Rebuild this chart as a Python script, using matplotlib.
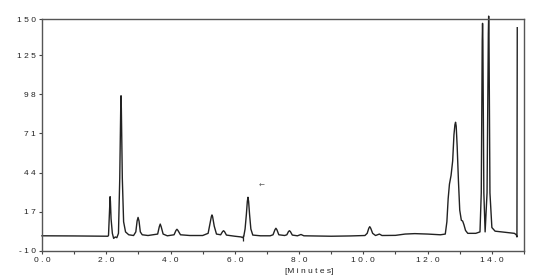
import matplotlib
matplotlib.use('Agg')
import matplotlib.pyplot as plt
from matplotlib.ticker import MultipleLocator

# trace: time [min], signal
time = [0.0, 1.0, 2.05,
        2.07, 2.09, 2.11, 2.12, 2.13, 2.15, 2.19, 2.23, 2.28, 2.33, 2.38,
        2.42, 2.45, 2.46, 2.47, 2.50, 2.54, 2.60, 2.70, 2.85,
        2.92, 2.96, 2.99, 3.02, 3.06, 3.12, 3.30,
        3.60, 3.65, 3.68, 3.71, 3.77, 3.90,
        4.11, 4.17, 4.20, 4.23, 4.31, 4.60, 5.00,
        5.17, 5.23, 5.27, 5.29, 5.31, 5.36, 5.43,
        5.56, 5.62, 5.65, 5.68, 5.74, 6.00, 6.20, 6.24, 6.28,
        6.32, 6.36, 6.39, 6.41, 6.43, 6.46, 6.50, 6.56, 6.80, 7.10,
        7.19, 7.25, 7.28, 7.31, 7.37, 7.55,
        7.62, 7.67, 7.70, 7.73, 7.79, 7.95, 8.06, 8.15, 8.50, 9.00, 9.60, 10.05,
        10.12, 10.17, 10.20, 10.23, 10.29, 10.38, 10.50, 10.58, 11.00, 11.30, 11.60, 12.00,
        12.40, 12.55,
        12.60, 12.64, 12.68, 12.73, 12.78, 12.82, 12.85, 12.87, 12.89, 12.92, 12.96, 13.00,
        13.05, 13.09, 13.13, 13.18, 13.25, 13.50, 13.63,
        13.67, 13.70, 13.71, 13.72, 13.75, 13.79,
        13.85, 13.89, 13.90, 13.91, 13.94, 14.00, 14.10, 14.30, 14.50, 14.70, 14.76, 14.78,
        14.79]
signal = [0.3, 0.2, 0.0,
          0.5, 12.0, 25.0, 27.3, 24.0, 12.0, 2.0, -1.5, -0.5, -1.0, 2.0,
          40.0, 88.0, 97.0, 88.0, 40.0, 10.0, 3.0, 1.0, 0.5,
          3.0, 10.5, 13.0, 10.5, 3.0, 1.0, 0.5,
          1.5, 6.5, 8.4, 6.5, 1.5, 0.3,
          1.0, 4.0, 4.8, 4.0, 1.0, 0.5, 0.5,
          2.0, 9.0, 13.5, 14.7, 13.5, 7.0, 1.5,
          1.0, 3.2, 3.8, 3.2, 0.8, 0.0, -0.5, -1.0, 0.0,
          5.0, 15.0, 24.0, 26.9, 24.0, 15.0, 5.0, 0.8, 0.3, 0.3,
          1.0, 4.5, 5.5, 4.5, 1.0, 0.5,
          1.0, 3.2, 3.8, 3.2, 0.8, 0.3, 1.2, 0.3, 0.2, 0.0, 0.2, 0.5,
          2.0, 5.5, 6.6, 5.5, 2.0, 0.5, 1.5, 0.5, 0.6, 1.5, 1.8, 1.5,
          1.0, 1.5,
          10.0, 26.0, 36.0, 42.0, 52.0, 70.0, 77.0, 78.7, 76.0, 62.0, 38.0, 18.0,
          11.0, 10.5, 8.0, 4.0, 2.0, 2.0, 3.0,
          30.0, 135.0, 147.0, 135.0, 30.0, 3.0,
          30.0, 140.0, 152.0, 140.0, 30.0, 6.0, 3.5, 3.0, 2.5, 2.0, 1.0, -0.5,
          144.0]

# small event tick on the baseline and the arrow annotation
event_time = [6.24]
event_signal = [-1.0]
arrow_pos = (6.84, 34.7)

x_ticks = [0, 2, 4, 6, 8, 10, 12, 14]
y_ticks = [-10, 17, 44, 71, 98, 125, 150]


def spaced(s):
    return ' '.join(s)


plt.rcParams['font.family'] = ['Liberation Sans', 'DejaVu Sans']

fig = plt.figure(figsize=(5.59, 2.80), dpi=100)
ax = fig.add_axes([0.0751, 0.1046, 0.8623, 0.8275])

ax.plot(time, signal, color='#222222', lw=1.0, clip_on=False)
ax.plot(event_time, event_signal, marker='|', ms=5, mew=0.9, color='#222222', ls='none')
ax.text(arrow_pos[0], arrow_pos[1], '\u2190', fontsize=5, color='#555555',
        family='DejaVu Sans', ha='center', va='center')

ax.set_xlim(0, 15)
ax.set_ylim(-10, 150)

ax.set_xticks(x_ticks)
ax.set_xticklabels([spaced(f'{t:.1f}') for t in x_ticks])
ax.xaxis.set_minor_locator(MultipleLocator(1))
ax.set_yticks(y_ticks)
ax.set_yticklabels([spaced(str(v)) for v in y_ticks])

ax.tick_params(axis='both', which='major', labelsize=6, length=2.5, width=0.8,
               color='#444444', labelcolor='#222222', pad=2)
ax.tick_params(axis='x', which='minor', length=2, width=0.8, color='#444444')

for sp in ax.spines.values():
    sp.set_color('#555555')
    sp.set_linewidth(1.0)

ax.set_xlabel('[M i n u t e s]', fontsize=6, color='#222222')
ax.xaxis.set_label_coords(0.554, -0.076)

fig.savefig('out.png', dpi=100)
